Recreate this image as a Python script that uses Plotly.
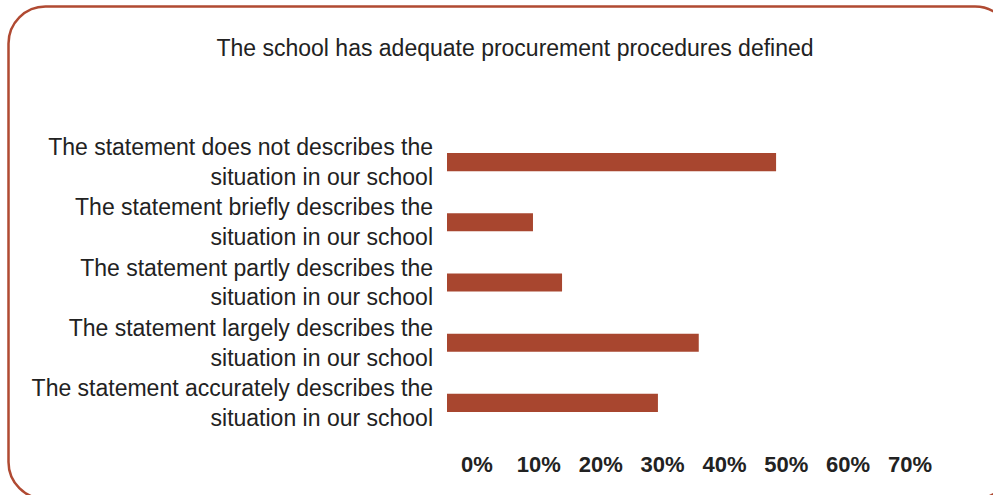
import plotly.graph_objects as go

title = "The school has adequate procurement procedures defined"
categories = [
    "The statement does not describes the<br>situation in our school",
    "The statement briefly describes the<br>situation in our school",
    "The statement partly describes the<br>situation in our school",
    "The statement largely describes the<br>situation in our school",
    "The statement accurately describes the<br>situation in our school",
]
values = [53.2, 13.9, 18.6, 40.7, 34.1]
tick_vals = [0, 10, 20, 30, 40, 50, 60, 70]
tick_text = ["0%", "10%", "20%", "30%", "40%", "50%", "60%", "70%"]

W, H = 993, 495
L, R, T, B = 447, 880, 132, 433

fig = go.Figure(go.Bar(
    x=values, y=categories, orientation="h",
    marker=dict(color="#A8462F", line=dict(width=0)),
    hoverinfo="skip",
))

def px(X):
    return (X - L) / (R - L)

def py(Y):
    return (B - Y) / (B - T)

x0, y0, x1, y1, r = 8.5, 6.5, 1012, 499, 37
k = 0.5523 * r
path = (
    f"M {px(x0+r)},{py(y0)} L {px(x1-r)},{py(y0)} "
    f"C {px(x1-r+k)},{py(y0)} {px(x1)},{py(y0+r-k)} {px(x1)},{py(y0+r)} "
    f"L {px(x1)},{py(y1-r)} "
    f"C {px(x1)},{py(y1-r+k)} {px(x1-r+k)},{py(y1)} {px(x1-r)},{py(y1)} "
    f"L {px(x0+r)},{py(y1)} "
    f"C {px(x0+r-k)},{py(y1)} {px(x0)},{py(y1-r+k)} {px(x0)},{py(y1-r)} "
    f"L {px(x0)},{py(y0+r)} "
    f"C {px(x0)},{py(y0+r-k)} {px(x0+r-k)},{py(y0)} {px(x0+r)},{py(y0)} Z"
)

fig.update_layout(
    width=W, height=H,
    margin=dict(l=L, r=W - R, t=T, b=H - B, pad=0),
    paper_bgcolor="white", plot_bgcolor="white",
    bargap=0.7,
    showlegend=False,
    title=dict(text=title, x=(515) / W, xanchor="center", y=1 - 48 / H, yanchor="middle",
               font=dict(family="Liberation Sans, Arial", size=23, color="#222222")),
    xaxis=dict(range=[0, 70], tickvals=tick_vals, ticktext=tick_text,
               showgrid=False, zeroline=False, showline=False, ticks="",
               ticklabelshift=30, ticklabelstandoff=16,
               tickfont=dict(family="Liberation Sans, Arial", size=22, color="#222222", weight="bold")),
    yaxis=dict(autorange="reversed", showgrid=False, zeroline=False, showline=False, ticks="",
               ticklabelstandoff=13,
               tickfont=dict(family="Liberation Sans, Arial", size=23, color="#222222")),
    shapes=[dict(type="path", xref="paper", yref="paper", path=path,
                 line=dict(color="#B04A32", width=2.5), fillcolor="rgba(0,0,0,0)", layer="above")],
)

fig.write_html("out.html", config={"displayModeBar": False},
               post_script="document.body.style.margin='0';document.body.style.overflow='hidden';")
